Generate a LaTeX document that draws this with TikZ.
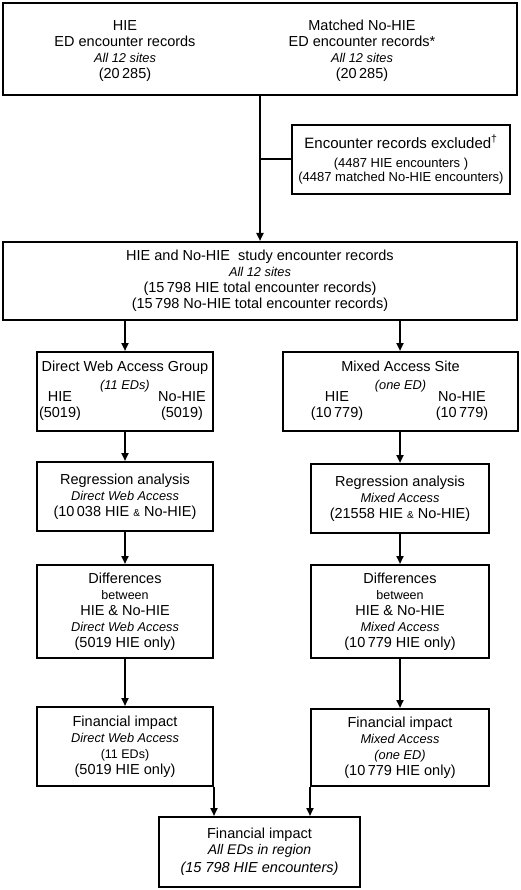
\documentclass[tikz,border=0pt]{standalone}
\usepackage{fontspec}
\setmainfont{Liberation Sans}
\usetikzlibrary{arrows.meta}
\newcommand\mfont{\fontsize{14.5}{16}\selectfont}
\newcommand\ifnt{\fontsize{12.8}{16}\selectfont\itshape}
\newcommand\sfnt{\fontsize{12.5}{16}\selectfont}
\newcommand\tfnt{\fontsize{13}{16}\selectfont}
\newcommand\amp{{\fontsize{10}{10}\selectfont\&}}
\begin{document}
\begin{tikzpicture}[x=1pt,y=-1pt,
  box/.style={draw, line width=2pt, inner sep=0pt, align=center, font=\mfont},
  txt/.style={inner sep=0pt, align=center, font=\mfont},
  arr/.style={-{Triangle[length=8pt,width=7pt]}, line width=2pt},
  ln/.style={line width=2pt}]
\useasboundingbox (0,0) rectangle (520,890);
% top
\node[box, minimum width=514pt, minimum height=92pt] (top) at (260,49) {};
\node[txt] (topL) at (125,51) {HIE\\ ED encounter records\\ {\ifnt All 12 sites}\\ (20\,285)};
\node[txt] (topR) at (362,51) {Matched No-HIE\\ ED encounter records*\\ {\ifnt All 12 sites}\\ (20\,285)};
% excluded
\node[box, minimum width=218pt, minimum height=69pt] (excl) at (401,159.5)
  {{\fontsize{15}{16}\selectfont Encounter records excluded\textsuperscript{\textdagger}}\\[3pt]
   {\tfnt (4487 HIE encounters )}\\[-2pt]
   {\tfnt (4487 matched No-HIE encounters)}};
% study
\node[box, minimum width=514pt, minimum height=78pt] (study) at (260,281)
  {HIE and No-HIE\ \ study encounter records\\ {\ifnt All 12 sites}\\ (15\,798 HIE total encounter records)\\ (15\,798 No-HIE total encounter records)};
% direct web access group
\node[box, minimum width=176pt, minimum height=79pt] (dwa) at (125,391.5) {};
\node[txt] (dwaT) at (125,377) {Direct Web Access Group\\[2pt] {\ifnt (11 EDs)}};
\node[txt] (dwaH) at (60,406.5) {HIE\\ (5019)};
\node[txt] (dwaN) at (182,406.5) {No-HIE\\ (5019)};
% mixed access site
\node[box, minimum width=235pt, minimum height=79pt] (mix) at (400.5,391.5) {};
\node[txt] (mixT) at (400.5,377) {Mixed Access Site\\[2pt] {\ifnt (one ED)}};
\node[txt] (mixH) at (337,406.5) {HIE\\ (10\,779)};
\node[txt] (mixN) at (462,406.5) {No-HIE\\ (10\,779)};
% regression
\node[box, minimum width=176pt, minimum height=69pt] (regL) at (125,496.5)
  {Regression analysis\\ {\ifnt Direct Web Access}\\ (10\,038 HIE \amp{} No-HIE)};
\node[box, minimum width=178pt, minimum height=69pt] (regR) at (400,498.5)
  {Regression analysis\\ {\ifnt Mixed Access}\\ (21558 HIE \amp{} No-HIE)};
% differences
\node[box, minimum width=176pt, minimum height=93pt] (diffL) at (125,611.5)
  {Differences\\ {\sfnt between}\\ HIE \& No-HIE\\ {\ifnt Direct Web Access}\\ (5019 HIE only)};
\node[box, minimum width=178pt, minimum height=93pt] (diffR) at (400,611.5)
  {Differences\\ {\sfnt between}\\ HIE \& No-HIE\\ {\ifnt Mixed Access}\\ (10\,779 HIE only)};
% financial
\node[box, minimum width=176pt, minimum height=79pt] (finL) at (125,746.5)
  {Financial impact\\ {\ifnt Direct Web Access}\\ {\sfnt (11 EDs)}\\ (5019 HIE only)};
\node[box, minimum width=178pt, minimum height=77pt] (finR) at (400,747.5)
  {Financial impact\\ {\ifnt Mixed Access}\\ {\ifnt (one ED)}\\ (10\,779 HIE only)};
\node[box, minimum width=201pt, minimum height=70pt] (all) at (259.5,852)
  {Financial impact\\ {\fontsize{14}{16}\selectfont\itshape All EDs in region}\\[2pt] {\fontsize{14.5}{16}\selectfont\itshape (15 798 HIE encounters)}};
% connectors
\draw[arr] (top.south) -- (study.north);
\draw[ln] (top.south |- excl.west) -- (excl.west);
\draw[arr] (dwa.north |- study.south) -- (dwa.north);
\draw[arr] (regR.north |- study.south) -- (regR.north |- mix.north);
\draw[arr] (dwa.south) -- (regL.north);
\draw[arr] (regR.north |- mix.south) -- (regR.north);
\draw[arr] (regL.south) -- (diffL.north);
\draw[arr] (regR.south) -- (diffR.north);
\draw[arr] (diffL.south) -- (finL.north);
\draw[arr] (diffR.south) -- (finR.north);
\draw[arr] (finL.south east) -- (finL.south east |- all.north);
\draw[arr] (finR.south west) -- (finR.south west |- all.north);
\end{tikzpicture}
\end{document}
